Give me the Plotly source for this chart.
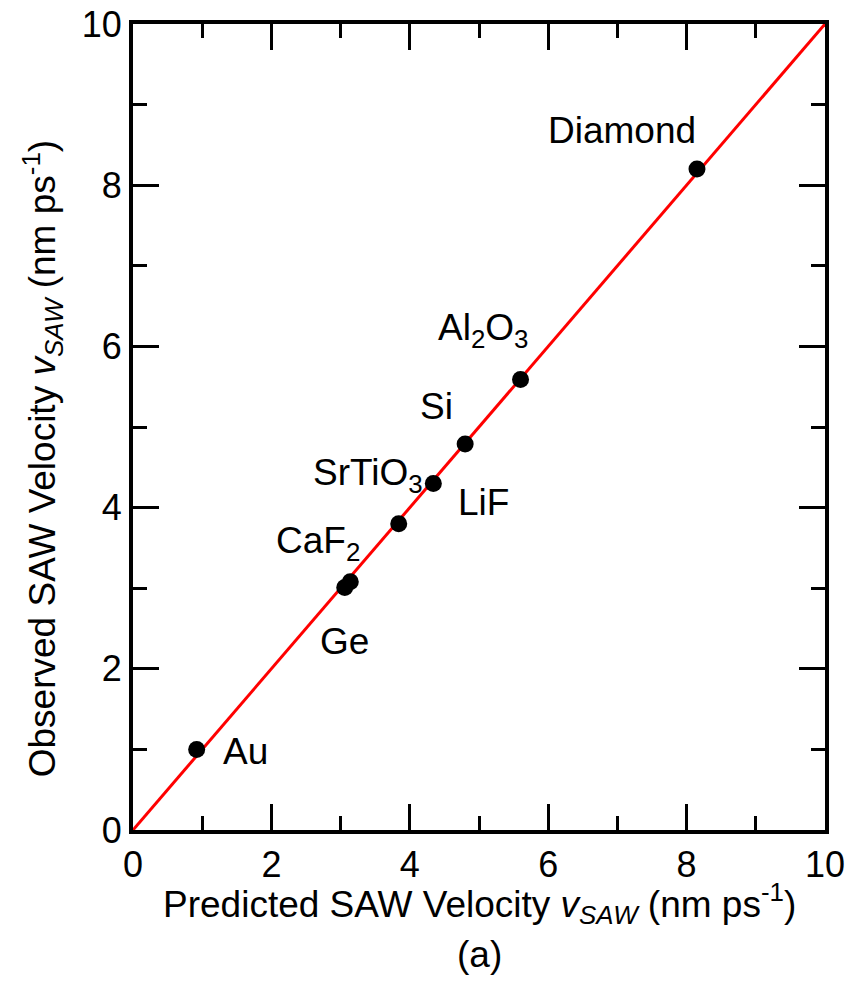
import plotly.graph_objects as go

materials = ["Au", "Ge", "CaF<sub>2</sub>", "SrTiO<sub>3</sub>", "LiF", "Si", "Al<sub>2</sub>O<sub>3</sub>", "Diamond"]
predicted = [0.92, 3.06, 3.14, 3.84, 4.34, 4.80, 5.60, 8.15]
observed = [1.00, 3.01, 3.08, 3.80, 4.30, 4.79, 5.59, 8.20]
label_x = [1.62, 3.06, 2.67, 3.40, 5.07, 4.39, 5.06, 7.07]
label_y = [0.97, 2.34, 3.56, 4.40, 4.06, 5.26, 6.20, 8.68]
fit_x = [0, 10]
fit_y = [0, 10]
tick_vals = [0, 2, 4, 6, 8, 10]
x_title = "Predicted SAW Velocity <i>v</i><sub><i>SAW</i></sub> (nm ps<sup>-1</sup>)"
y_title = "Observed SAW Velocity <i>v</i><sub><i>SAW</i></sub> (nm ps<sup>-1</sup>)"
panel_label = "(a)"

FONT = "Liberation Sans, Arial, sans-serif"

fig = go.Figure()
fig.add_trace(go.Scatter(x=fit_x, y=fit_y, mode="lines",
                         line=dict(color="#ff0000", width=3), showlegend=False))
fig.add_trace(go.Scatter(x=predicted, y=observed, mode="markers",
                         marker=dict(color="black", size=17), showlegend=False))

for name, lx, ly in zip(materials, label_x, label_y):
    fig.add_annotation(x=lx, y=ly, text=name, showarrow=False,
                       font=dict(family=FONT, size=37, color="black"),
                       xanchor="center", yanchor="middle")

fig.add_annotation(x=0.5, y=-0.0906, xref="paper", yref="paper", text=x_title,
                   showarrow=False, font=dict(family=FONT, size=37, color="black"),
                   xanchor="center", yanchor="middle")
fig.add_annotation(x=-0.1315, y=0.46, xref="paper", yref="paper", text=y_title,
                   textangle=-90, showarrow=False,
                   font=dict(family=FONT, size=37, color="black"),
                   xanchor="center", yanchor="middle")
fig.add_annotation(x=0.5, y=-0.155, xref="paper", yref="paper", text=panel_label,
                   showarrow=False, font=dict(family=FONT, size=37, color="black"),
                   xanchor="center", yanchor="middle")

axis_common = dict(
    range=[0, 10], tickvals=tick_vals, ticks="inside", ticklen=26, tickwidth=3,
    tickcolor="black", showline=True, linecolor="black", linewidth=4,
    mirror="ticks", showgrid=False, zeroline=False, automargin=False,
    tickfont=dict(family=FONT, size=36, color="black"),
    minor=dict(ticks="inside", ticklen=14, tickwidth=3, tickcolor="black", dtick=1, showgrid=False),
)

fig.update_layout(
    template="none",
    width=850, height=981,
    margin=dict(l=133, r=25, t=24, b=151),
    plot_bgcolor="white", paper_bgcolor="white",
    font=dict(family=FONT, size=36, color="black"),
    xaxis=dict(**axis_common),
    yaxis=dict(**axis_common),
)

fig.write_html("out.html")
